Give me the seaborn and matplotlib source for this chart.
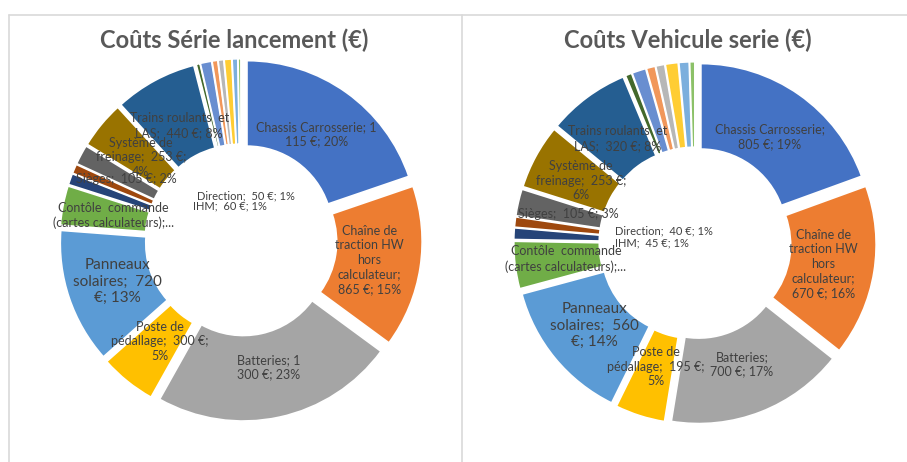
import matplotlib
matplotlib.use('Agg')
import matplotlib.pyplot as plt
import seaborn as sns
import numpy as np

sns.set_theme(style="white")
plt.rcParams['font.family'] = ['Lato', 'DejaVu Sans']

# Excel 2013 palette, one colour per cost item (same order in both charts)
colors = ["#4472C4", "#ED7D31", "#A5A5A5", "#FFC000", "#5B9BD5", "#70AD47",
          "#264478", "#9E480E", "#636363", "#997300", "#255E91", "#43682B",
          "#698ED0", "#F1975A", "#B7B7B7", "#FFCD33", "#7CAFDD", "#8CC168"]

items = ["Chassis Carrosserie", "Chaîne de traction HW hors calculateur", "Batteries",
         "Poste de pédallage", "Panneaux solaires", "Contôle commande (cartes calculateurs)",
         "IHM", "Direction", "Sièges", "Système de freinage", "Trains roulants et LAS",
         "Autre 1", "Autre 2", "Autre 3", "Autre 4", "Autre 5", "Autre 6", "Autre 7"]

lancement_values = [1115, 865, 1300, 300, 720, 210, 60, 50, 105, 253, 440,
                    20, 60, 30, 30, 40, 30, 15]
vehicule_values = [805, 670, 700, 195, 560, 185, 45, 40, 105, 253, 320,
                   25, 55, 35, 35, 50, 40, 20]

lancement_labels = ["Chassis Carrosserie; 1\n115 €; 20%",
                    "Chaîne de\ntraction HW\nhors\ncalculateur;\n865 €; 15%",
                    "Batteries; 1\n300 €; 23%",
                    "Poste de\npédallage;  300 €;\n5%",
                    "Panneaux\nsolaires;  720\n€; 13%",
                    "Contôle  commande\n(cartes calculateurs);...",
                    "IHM;  60 €; 1%",
                    "Direction;  50 €; 1%",
                    "Sièges;  105 €; 2%",
                    "Système de\nfreinage;  253 €;\n4%",
                    "Trains roulants  et\nLAS;  440 €; 8%"]
vehicule_labels = ["Chassis Carrosserie;\n805 €; 19%",
                   "Chaîne de\ntraction HW\nhors\ncalculateur;\n670 €; 16%",
                   "Batteries;\n700 €; 17%",
                   "Poste de\npédallage;  195 €;\n5%",
                   "Panneaux\nsolaires;  560\n€; 14%",
                   "Contôle  commande\n(cartes calculateurs);...",
                   "IHM;  45 €; 1%",
                   "Direction;  40 €; 1%",
                   "Sièges;  105 €; 3%",
                   "Système de\nfreinage;  253 €;\n6%",
                   "Trains roulants  et\nLAS;  320 €; 8%"]

# where Excel moved the IHM / Direction labels (inside the hole)
lancement_hole = {"IHM": (-0.28, 0.20), "Direction": (-0.26, 0.26)}
vehicule_hole = {"IHM": (-0.47, 0.0), "Direction": (-0.47, 0.07)}

TEXT = "#404040"


def donut(ax, values, labels, hole_pos):
    wedges, _ = ax.pie(values, colors=colors, startangle=90, counterclock=False,
                       radius=1.0, explode=[0.06] * len(values),
                       wedgeprops=dict(width=0.5, edgecolor="white", linewidth=1.2))
    for i, (w, lab) in enumerate(zip(wedges, labels)):
        if items[i] in hole_pos:
            x, y = hole_pos[items[i]]
            ax.text(x, y, lab, ha="left", va="center", fontsize=8, color=TEXT)
            continue
        ang = np.deg2rad((w.theta1 + w.theta2) / 2)
        cx, cy = w.center
        r = 0.70
        size = 11 if items[i] == "Panneaux solaires" else 9
        ax.text(cx + r * np.cos(ang), cy + r * np.sin(ang), lab, ha="center",
                va="center", fontsize=size, color=TEXT, linespacing=1.25)
    ax.set_xlim(-1.25, 1.25)
    ax.set_ylim(-1.25, 1.25)
    ax.set_aspect("equal")
    ax.axis("off")


fig = plt.figure(figsize=(9.07, 4.62), dpi=100)
w_frac, h_frac = 427.5 / 907, 427.5 / 462
ax1 = fig.add_axes([(241 - 213.75) / 907, 1 - (240 + 213.75) / 462, w_frac, h_frac])
ax2 = fig.add_axes([(695 - 213.75) / 907, 1 - (243 + 213.75) / 462, w_frac, h_frac])
donut(ax1, lancement_values, lancement_labels, lancement_hole)
donut(ax2, vehicule_values, vehicule_labels, vehicule_hole)

fig.text(234 / 907, 1 - 40 / 462, "Coûts Série lancement (€)", ha="center", va="center",
         fontsize=17, fontweight="bold", color="#595959")
fig.text(688 / 907, 1 - 40 / 462, "Coûts Vehicule serie (€)", ha="center", va="center",
         fontsize=17, fontweight="bold", color="#595959")

# chart-area borders as in the Excel screenshot
border = dict(color="#D9D9D9", linewidth=1.2, transform=fig.transFigure)
fig.add_artist(plt.Line2D([9 / 907, 1], [1 - 15 / 462] * 2, **border))
fig.add_artist(plt.Line2D([9 / 907] * 2, [0, 1 - 15 / 462], **border))
fig.add_artist(plt.Line2D([462 / 907] * 2, [0, 1 - 15 / 462], **border))

plt.savefig("out.png", dpi=100)
plt.close()
